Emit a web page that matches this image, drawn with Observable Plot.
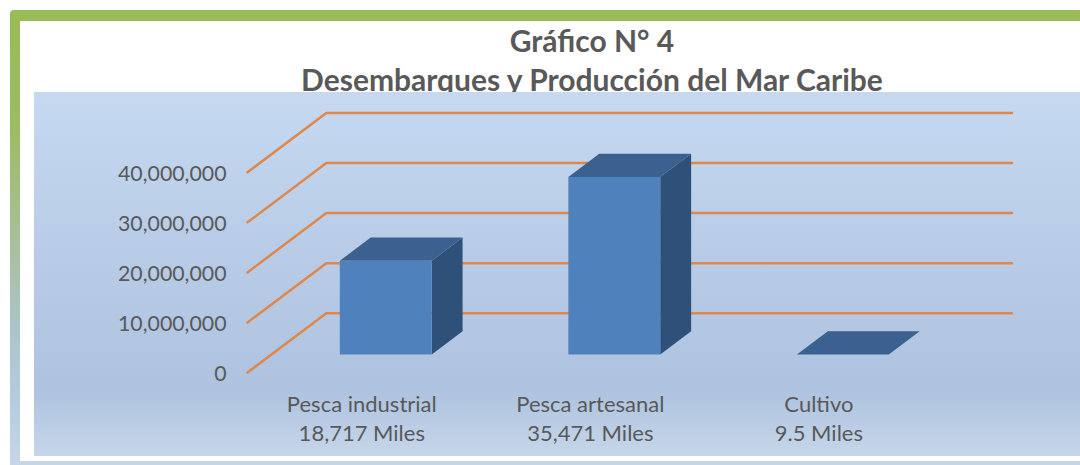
<!DOCTYPE html>
<html lang="es">
<head>
<meta charset="utf-8">
<script src="https://cdn.jsdelivr.net/npm/d3@7"></script>
<script src="https://cdn.jsdelivr.net/npm/@observablehq/plot@0.6"></script>
<style>
html,body{margin:0;padding:0;background:#fff;overflow:hidden}
#page{position:relative;width:1080px;height:465px;overflow:hidden;font-family:Lato,"Open Sans",sans-serif}
#top{position:absolute;left:10px;top:10px;width:1070px;height:11px;background:#9bbb59;border-top-left-radius:4px}
#left{position:absolute;left:10px;top:15px;width:10px;height:450px;background:linear-gradient(#9bbb59 0%,#9dbb62 25%,#a8c09a 50%,#abc4c4 68%,#b5cbe0 85%,#c5d6e8 100%)}
#bottom{position:absolute;left:10px;top:461px;width:1070px;height:4px;background:#c5d6e8}
#title{position:absolute;left:10px;width:1164px;top:21px;text-align:center;font-weight:700;font-size:30px;line-height:39px;color:#595959}
#panel{position:absolute;left:34px;top:92px;width:1046px;height:364px;background:linear-gradient(#c6d9f1 0%,#b9cde8 40%,#aec3df 82%,#c6d6ea 100%)}
#panel svg{display:block;background:transparent}
</style>
</head>
<body>
<div id="page">
  <div id="top"></div>
  <div id="left"></div>
  <div id="bottom"></div>
  <div id="title">Gráfico N° 4<br>Desembarques y Producción del Mar Caribe</div>
  <div id="panel"></div>
</div>
<script>
const categories = ["Pesca industrial", "Pesca artesanal", "Cultivo"];
const valueLabels = ["18,717 Miles", "35,471 Miles", "9.5 Miles"];
const values = [18717000, 35471000, 9500];
const yTicks = [0, 10000000, 20000000, 30000000, 40000000];

// Oblique depth of the 3-D chart box, expressed in scale units
const depthX = 0.345;
const depthY = 11850000;
const barLeft = 0.299, barRight = 0.701;
const depthFront = 0.304, depthBack = 0.696;

const at = (u, v, d) => ({px: u + d * depthX, py: v + d * depthY});

const grid = yTicks.flatMap(v => [
  {v, ...at(0, v, 0)},
  {v, ...at(0, v, 1)},
  {v, ...at(categories.length, v, 1)}
]);

const faces = {front: [], top: [], side: []};
values.forEach((v, i) => {
  const a = i + barLeft, b = i + barRight;
  const f = depthFront, k = depthBack;
  if (v > 100000) {
    faces.front.push(...[at(a,0,f), at(b,0,f), at(b,v,f), at(a,v,f)].map(p => ({i, ...p})));
    faces.side.push(...[at(b,0,f), at(b,0,k), at(b,v,k), at(b,v,f)].map(p => ({i, ...p})));
  }
  faces.top.push(...[at(a,v,f), at(b,v,f), at(b,v,k), at(a,v,k)].map(p => ({i, ...p})));
});

const labels = categories.map((c, i) => ({u: i + 0.5, text: c + "\n" + valueLabels[i]}));
const face = (rows, fill) => Plot.line(rows, {x: "px", y: "py", z: "i", fill, stroke: "none", curve: "linear"});

const chart = Plot.plot({
  width: 1046,
  height: 364,
  marginLeft: 213,
  marginRight: 68.5,
  marginTop: 20.5,
  marginBottom: 84,
  style: {background: "transparent", fontFamily: "Lato, 'Open Sans', sans-serif"},
  x: {type: "linear", domain: [0, categories.length + depthX], axis: null},
  y: {type: "linear", domain: [0, 40000000 + depthY], axis: null},
  marks: [
    Plot.line(grid, {x: "px", y: "py", z: "v", stroke: "#e0874a", strokeWidth: 2.5, curve: "linear"}),
    face(faces.side, "#2f5078"),
    face(faces.top, "#3b6190"),
    face(faces.front, "#4f81bd"),
    Plot.axisY({
      anchor: "left",
      ticks: yTicks,
      tickSize: 0,
      tickPadding: 21,
      tickFormat: d3.format(","),
      label: null,
      fontSize: 21.3,
      color: "#595959",
      dy: 2
    }),
    Plot.text(labels, {
      x: "u",
      y: () => 0,
      text: "text",
      dy: 44.5,
      fontSize: 22,
      lineHeight: 1.32,
      fill: "#595959"
    })
  ]
});
document.getElementById("panel").appendChild(chart);
</script>
</body>
</html>
